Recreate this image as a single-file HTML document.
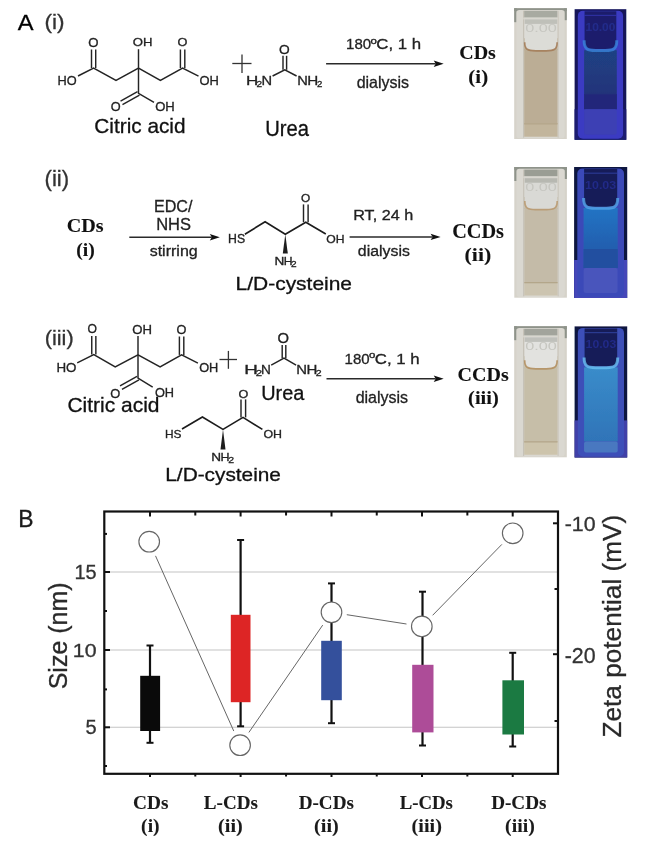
<!DOCTYPE html>
<html><head><meta charset="utf-8"><style>
html,body{margin:0;padding:0;background:#fff;}
body{width:650px;height:845px;overflow:hidden;}
svg{display:block;filter:blur(0.4px);}
</style></head><body>
<svg width="650" height="845" viewBox="0 0 650 845">
<rect width="650" height="845" fill="#fff"/>
<line x1="105.00" y1="572.00" x2="557.00" y2="572.00" stroke="#c4c4c4" stroke-width="1.1" />
<line x1="105.00" y1="650.00" x2="557.00" y2="650.00" stroke="#c4c4c4" stroke-width="1.1" />
<line x1="105.00" y1="727.30" x2="557.00" y2="727.30" stroke="#c4c4c4" stroke-width="1.1" />
<rect x="104.3" y="511.5" width="453.7" height="262.3" fill="none" stroke="#111" stroke-width="2.2"/>
<line x1="104.30" y1="572.00" x2="110.00" y2="572.00" stroke="#111" stroke-width="2" />
<line x1="104.30" y1="650.00" x2="110.00" y2="650.00" stroke="#111" stroke-width="2" />
<line x1="104.30" y1="727.30" x2="110.00" y2="727.30" stroke="#111" stroke-width="2" />
<line x1="104.30" y1="533.90" x2="107.00" y2="533.90" stroke="#111" stroke-width="2" />
<line x1="104.30" y1="611.00" x2="107.00" y2="611.00" stroke="#111" stroke-width="2" />
<line x1="104.30" y1="689.40" x2="107.00" y2="689.40" stroke="#111" stroke-width="2" />
<line x1="104.30" y1="766.00" x2="107.00" y2="766.00" stroke="#111" stroke-width="2" />
<line x1="553.00" y1="523.30" x2="558.00" y2="523.30" stroke="#111" stroke-width="2" />
<line x1="553.00" y1="654.20" x2="558.00" y2="654.20" stroke="#111" stroke-width="2" />
<line x1="554.50" y1="589.00" x2="558.00" y2="589.00" stroke="#111" stroke-width="2" />
<line x1="554.50" y1="721.00" x2="558.00" y2="721.00" stroke="#111" stroke-width="2" />
<line x1="150.00" y1="511.50" x2="150.00" y2="516.50" stroke="#111" stroke-width="2" />
<line x1="150.00" y1="773.80" x2="150.00" y2="777.00" stroke="#111" stroke-width="2" />
<line x1="240.60" y1="511.50" x2="240.60" y2="516.50" stroke="#111" stroke-width="2" />
<line x1="240.60" y1="773.80" x2="240.60" y2="777.00" stroke="#111" stroke-width="2" />
<line x1="331.50" y1="511.50" x2="331.50" y2="516.50" stroke="#111" stroke-width="2" />
<line x1="331.50" y1="773.80" x2="331.50" y2="777.00" stroke="#111" stroke-width="2" />
<line x1="422.00" y1="511.50" x2="422.00" y2="516.50" stroke="#111" stroke-width="2" />
<line x1="422.00" y1="773.80" x2="422.00" y2="777.00" stroke="#111" stroke-width="2" />
<line x1="512.70" y1="511.50" x2="512.70" y2="516.50" stroke="#111" stroke-width="2" />
<line x1="512.70" y1="773.80" x2="512.70" y2="777.00" stroke="#111" stroke-width="2" />
<line x1="195.30" y1="511.50" x2="195.30" y2="515.50" stroke="#111" stroke-width="2" />
<line x1="195.30" y1="773.80" x2="195.30" y2="776.50" stroke="#111" stroke-width="2" />
<line x1="286.05" y1="511.50" x2="286.05" y2="515.50" stroke="#111" stroke-width="2" />
<line x1="286.05" y1="773.80" x2="286.05" y2="776.50" stroke="#111" stroke-width="2" />
<line x1="376.75" y1="511.50" x2="376.75" y2="515.50" stroke="#111" stroke-width="2" />
<line x1="376.75" y1="773.80" x2="376.75" y2="776.50" stroke="#111" stroke-width="2" />
<line x1="467.35" y1="511.50" x2="467.35" y2="515.50" stroke="#111" stroke-width="2" />
<line x1="467.35" y1="773.80" x2="467.35" y2="776.50" stroke="#111" stroke-width="2" />
<text x="74.38" y="578.81" font-size="19.92" font-family='"Liberation Sans", sans-serif' font-weight="normal" fill="#333" stroke="#333" stroke-width="0.3" textLength="22.15" lengthAdjust="spacingAndGlyphs" >15</text>
<text x="72.77" y="656.72" font-size="18.93" font-family='"Liberation Sans", sans-serif' font-weight="normal" fill="#333" stroke="#333" stroke-width="0.3" textLength="23.76" lengthAdjust="spacingAndGlyphs" >10</text>
<text x="85.40" y="734.21" font-size="19.92" font-family='"Liberation Sans", sans-serif' font-weight="normal" fill="#333" stroke="#333" stroke-width="0.3" textLength="11.14" lengthAdjust="spacingAndGlyphs" >5</text>
<text x="564.75" y="530.61" font-size="19.49" font-family='"Liberation Sans", sans-serif' font-weight="normal" fill="#333" stroke="#333" stroke-width="0.3" textLength="30.88" lengthAdjust="spacingAndGlyphs" >-10</text>
<text x="564.75" y="662.59" font-size="21.75" font-family='"Liberation Sans", sans-serif' font-weight="normal" fill="#333" stroke="#333" stroke-width="0.3" textLength="30.88" lengthAdjust="spacingAndGlyphs" >-20</text>
<text x="0.00" y="0.00" font-size="25.00" font-family='"Liberation Sans", sans-serif' font-weight="normal" fill="#2a2a2a" stroke="#2a2a2a" stroke-width="0.3" textLength="106.95" lengthAdjust="spacingAndGlyphs" transform="translate(66.9,689.3) rotate(-90)">Size (nm)</text>
<text x="0.00" y="0.00" font-size="26.20" font-family='"Liberation Sans", sans-serif' font-weight="normal" fill="#2a2a2a" stroke="#2a2a2a" stroke-width="0.3" textLength="222.78" lengthAdjust="spacingAndGlyphs" transform="translate(620.5,737.5) rotate(-90)">Zeta potential (mV)</text>
<line x1="150.00" y1="645.50" x2="150.00" y2="742.80" stroke="#111" stroke-width="2.2" />
<line x1="146.50" y1="645.50" x2="153.50" y2="645.50" stroke="#111" stroke-width="2" />
<line x1="146.50" y1="742.80" x2="153.50" y2="742.80" stroke="#111" stroke-width="2" />
<rect x="140.20" y="675.80" width="19.90" height="55.20" fill="#0a0a0a" />
<line x1="240.60" y1="540.00" x2="240.60" y2="726.30" stroke="#111" stroke-width="2.2" />
<line x1="237.10" y1="540.00" x2="244.10" y2="540.00" stroke="#111" stroke-width="2" />
<line x1="237.10" y1="726.30" x2="244.10" y2="726.30" stroke="#111" stroke-width="2" />
<rect x="230.80" y="614.80" width="19.70" height="87.40" fill="#dd2525" />
<line x1="331.50" y1="583.40" x2="331.50" y2="723.20" stroke="#111" stroke-width="2.2" />
<line x1="328.00" y1="583.40" x2="335.00" y2="583.40" stroke="#111" stroke-width="2" />
<line x1="328.00" y1="723.20" x2="335.00" y2="723.20" stroke="#111" stroke-width="2" />
<rect x="321.20" y="640.80" width="20.60" height="59.40" fill="#34509c" />
<line x1="422.50" y1="591.70" x2="422.50" y2="745.50" stroke="#111" stroke-width="2.2" />
<line x1="419.00" y1="591.70" x2="426.00" y2="591.70" stroke="#111" stroke-width="2" />
<line x1="419.00" y1="745.50" x2="426.00" y2="745.50" stroke="#111" stroke-width="2" />
<rect x="412.20" y="664.80" width="21.30" height="67.60" fill="#ad4c98" />
<line x1="512.70" y1="652.80" x2="512.70" y2="746.50" stroke="#111" stroke-width="2.2" />
<line x1="509.20" y1="652.80" x2="516.20" y2="652.80" stroke="#111" stroke-width="2" />
<line x1="509.20" y1="746.50" x2="516.20" y2="746.50" stroke="#111" stroke-width="2" />
<rect x="502.40" y="680.30" width="21.60" height="54.20" fill="#1b7a42" />
<line x1="155.52" y1="555.85" x2="233.78" y2="731.05" stroke="#666" stroke-width="1.0" />
<line x1="248.88" y1="732.43" x2="322.72" y2="625.07" stroke="#666" stroke-width="1.0" />
<line x1="346.81" y1="614.69" x2="406.49" y2="624.01" stroke="#666" stroke-width="1.0" />
<line x1="432.63" y1="615.31" x2="501.87" y2="544.39" stroke="#666" stroke-width="1.0" />
<circle cx="149.2" cy="541.7" r="10.3" fill="#fff" stroke="#666" stroke-width="1.15"/>
<circle cx="240.1" cy="745.2" r="10.3" fill="#fff" stroke="#666" stroke-width="1.15"/>
<circle cx="331.5" cy="612.3" r="10.3" fill="#fff" stroke="#666" stroke-width="1.15"/>
<circle cx="421.8" cy="626.4" r="10.3" fill="#fff" stroke="#666" stroke-width="1.15"/>
<circle cx="512.7" cy="533.3" r="10.3" fill="#fff" stroke="#666" stroke-width="1.15"/>
<text x="133.06" y="808.61" font-size="19.80" font-family='"Liberation Serif", serif' font-weight="bold" fill="#1a1a1a" stroke="#1a1a1a" stroke-width="0.1" textLength="35.41" lengthAdjust="spacingAndGlyphs" >CDs</text>
<text x="141.14" y="831.67" font-size="19.41" font-family='"Liberation Serif", serif' font-weight="bold" fill="#1a1a1a" stroke="#1a1a1a" stroke-width="0.1" textLength="18.53" lengthAdjust="spacingAndGlyphs" >(i)</text>
<text x="203.87" y="808.61" font-size="19.80" font-family='"Liberation Serif", serif' font-weight="bold" fill="#1a1a1a" stroke="#1a1a1a" stroke-width="0.1" textLength="53.99" lengthAdjust="spacingAndGlyphs" >L-CDs</text>
<text x="218.11" y="831.67" font-size="19.41" font-family='"Liberation Serif", serif' font-weight="bold" fill="#1a1a1a" stroke="#1a1a1a" stroke-width="0.1" textLength="24.68" lengthAdjust="spacingAndGlyphs" >(ii)</text>
<text x="298.76" y="808.61" font-size="19.80" font-family='"Liberation Serif", serif' font-weight="bold" fill="#1a1a1a" stroke="#1a1a1a" stroke-width="0.1" textLength="55.10" lengthAdjust="spacingAndGlyphs" >D-CDs</text>
<text x="314.11" y="831.67" font-size="19.41" font-family='"Liberation Serif", serif' font-weight="bold" fill="#1a1a1a" stroke="#1a1a1a" stroke-width="0.1" textLength="24.68" lengthAdjust="spacingAndGlyphs" >(ii)</text>
<text x="399.68" y="808.61" font-size="19.80" font-family='"Liberation Serif", serif' font-weight="bold" fill="#1a1a1a" stroke="#1a1a1a" stroke-width="0.1" textLength="53.28" lengthAdjust="spacingAndGlyphs" >L-CDs</text>
<text x="411.61" y="831.67" font-size="19.41" font-family='"Liberation Serif", serif' font-weight="bold" fill="#1a1a1a" stroke="#1a1a1a" stroke-width="0.1" textLength="30.27" lengthAdjust="spacingAndGlyphs" >(iii)</text>
<text x="491.16" y="808.61" font-size="19.80" font-family='"Liberation Serif", serif' font-weight="bold" fill="#1a1a1a" stroke="#1a1a1a" stroke-width="0.1" textLength="55.30" lengthAdjust="spacingAndGlyphs" >D-CDs</text>
<text x="505.13" y="831.67" font-size="19.41" font-family='"Liberation Serif", serif' font-weight="bold" fill="#1a1a1a" stroke="#1a1a1a" stroke-width="0.1" textLength="29.74" lengthAdjust="spacingAndGlyphs" >(iii)</text>
<text x="18.22" y="526.50" font-size="23.11" font-family='"Liberation Sans", sans-serif' font-weight="normal" fill="#1a1a1a" stroke="#1a1a1a" stroke-width="0.3" textLength="15.29" lengthAdjust="spacingAndGlyphs" >B</text>
<path d="M78.00,76.00 L93.60,68.00 L116.00,80.50 L138.50,68.00 L160.40,80.50 L182.60,68.00 L198.50,76.20" fill="none" stroke="#242424" stroke-width="1.45" stroke-linejoin="miter" stroke-linecap="butt"/>
<line x1="138.50" y1="68.00" x2="138.50" y2="49.20" stroke="#242424" stroke-width="1.45" />
<path d="M138.50,68.00 L138.50,93.30 L154.00,102.30" fill="none" stroke="#242424" stroke-width="1.45" stroke-linejoin="miter" stroke-linecap="butt"/>
<line x1="91.50" y1="49.50" x2="91.50" y2="68.00" stroke="#242424" stroke-width="1.45" />
<line x1="95.70" y1="49.50" x2="95.70" y2="68.00" stroke="#242424" stroke-width="1.45" />
<line x1="180.40" y1="49.50" x2="180.40" y2="68.00" stroke="#242424" stroke-width="1.45" />
<line x1="184.80" y1="49.50" x2="184.80" y2="68.00" stroke="#242424" stroke-width="1.45" />
<line x1="139.48" y1="95.05" x2="122.48" y2="104.55" stroke="#242424" stroke-width="1.45" />
<line x1="137.52" y1="91.55" x2="120.52" y2="101.05" stroke="#242424" stroke-width="1.45" />
<text x="88.38" y="47.38" font-size="12.01" font-family='"Liberation Sans", sans-serif' font-weight="normal" fill="#222" stroke="#222" stroke-width="0.3" textLength="10.26" lengthAdjust="spacingAndGlyphs" >O</text>
<text x="57.45" y="84.88" font-size="12.71" font-family='"Liberation Sans", sans-serif' font-weight="normal" fill="#222" stroke="#222" stroke-width="0.3" textLength="19.16" lengthAdjust="spacingAndGlyphs" >HO</text>
<text x="132.88" y="46.49" font-size="11.44" font-family='"Liberation Sans", sans-serif' font-weight="normal" fill="#222" stroke="#222" stroke-width="0.3" textLength="19.69" lengthAdjust="spacingAndGlyphs" >OH</text>
<text x="177.60" y="46.49" font-size="11.44" font-family='"Liberation Sans", sans-serif' font-weight="normal" fill="#222" stroke="#222" stroke-width="0.3" textLength="9.91" lengthAdjust="spacingAndGlyphs" >O</text>
<text x="199.39" y="85.27" font-size="12.99" font-family='"Liberation Sans", sans-serif' font-weight="normal" fill="#222" stroke="#222" stroke-width="0.3" textLength="19.36" lengthAdjust="spacingAndGlyphs" >OH</text>
<text x="110.70" y="110.88" font-size="12.29" font-family='"Liberation Sans", sans-serif' font-weight="normal" fill="#222" stroke="#222" stroke-width="0.3" textLength="9.91" lengthAdjust="spacingAndGlyphs" >O</text>
<text x="155.18" y="110.88" font-size="12.29" font-family='"Liberation Sans", sans-serif' font-weight="normal" fill="#222" stroke="#222" stroke-width="0.3" textLength="19.58" lengthAdjust="spacingAndGlyphs" >OH</text>
<path d="M77.20,362.90 L93.80,354.60 L115.20,367.00 L138.00,354.80 L160.10,366.90 L181.60,354.90 L197.90,363.20" fill="none" stroke="#242424" stroke-width="1.45" stroke-linejoin="miter" stroke-linecap="butt"/>
<line x1="138.00" y1="354.80" x2="138.00" y2="335.90" stroke="#242424" stroke-width="1.45" />
<path d="M138.00,354.80 L138.00,378.10 L152.70,387.20" fill="none" stroke="#242424" stroke-width="1.45" stroke-linejoin="miter" stroke-linecap="butt"/>
<line x1="91.75" y1="335.90" x2="91.75" y2="354.60" stroke="#242424" stroke-width="1.45" />
<line x1="95.85" y1="335.90" x2="95.85" y2="354.60" stroke="#242424" stroke-width="1.45" />
<line x1="179.40" y1="336.50" x2="179.40" y2="354.90" stroke="#242424" stroke-width="1.45" />
<line x1="183.80" y1="336.50" x2="183.80" y2="354.90" stroke="#242424" stroke-width="1.45" />
<line x1="138.98" y1="379.85" x2="121.98" y2="389.35" stroke="#242424" stroke-width="1.45" />
<line x1="137.02" y1="376.35" x2="120.02" y2="385.85" stroke="#242424" stroke-width="1.45" />
<text x="87.62" y="333.08" font-size="11.86" font-family='"Liberation Sans", sans-serif' font-weight="normal" fill="#222" stroke="#222" stroke-width="0.3" textLength="9.46" lengthAdjust="spacingAndGlyphs" >O</text>
<text x="56.40" y="371.78" font-size="12.71" font-family='"Liberation Sans", sans-serif' font-weight="normal" fill="#222" stroke="#222" stroke-width="0.3" textLength="20.03" lengthAdjust="spacingAndGlyphs" >HO</text>
<text x="132.18" y="333.58" font-size="12.29" font-family='"Liberation Sans", sans-serif' font-weight="normal" fill="#222" stroke="#222" stroke-width="0.3" textLength="19.69" lengthAdjust="spacingAndGlyphs" >OH</text>
<text x="176.60" y="333.58" font-size="12.29" font-family='"Liberation Sans", sans-serif' font-weight="normal" fill="#222" stroke="#222" stroke-width="0.3" textLength="9.91" lengthAdjust="spacingAndGlyphs" >O</text>
<text x="199.20" y="371.78" font-size="12.29" font-family='"Liberation Sans", sans-serif' font-weight="normal" fill="#222" stroke="#222" stroke-width="0.3" textLength="19.15" lengthAdjust="spacingAndGlyphs" >OH</text>
<text x="110.19" y="397.58" font-size="12.71" font-family='"Liberation Sans", sans-serif' font-weight="normal" fill="#222" stroke="#222" stroke-width="0.3" textLength="10.03" lengthAdjust="spacingAndGlyphs" >O</text>
<text x="154.90" y="397.27" font-size="12.99" font-family='"Liberation Sans", sans-serif' font-weight="normal" fill="#222" stroke="#222" stroke-width="0.3" textLength="19.15" lengthAdjust="spacingAndGlyphs" >OH</text>
<text x="94.35" y="133.00" font-size="20.29" font-family='"Liberation Sans", sans-serif' font-weight="normal" fill="#111" stroke="#111" stroke-width="0.3" textLength="91.19" lengthAdjust="spacingAndGlyphs" >Citric acid</text>
<text x="67.43" y="411.60" font-size="20.43" font-family='"Liberation Sans", sans-serif' font-weight="normal" fill="#111" stroke="#111" stroke-width="0.3" textLength="92.12" lengthAdjust="spacingAndGlyphs" >Citric acid</text>
<line x1="232.30" y1="63.50" x2="251.50" y2="63.50" stroke="#333" stroke-width="1.3" />
<line x1="242.00" y1="54.60" x2="242.00" y2="73.10" stroke="#333" stroke-width="1.3" />
<line x1="219.50" y1="359.50" x2="237.00" y2="359.50" stroke="#333" stroke-width="1.3" />
<line x1="228.40" y1="350.90" x2="228.40" y2="368.80" stroke="#333" stroke-width="1.3" />
<path d="M272.60,76.00 L284.80,69.80 L296.60,76.00" fill="none" stroke="#242424" stroke-width="1.45" stroke-linejoin="miter" stroke-linecap="butt"/>
<line x1="283.00" y1="55.80" x2="283.00" y2="69.80" stroke="#242424" stroke-width="1.45" />
<line x1="286.60" y1="55.80" x2="286.60" y2="69.80" stroke="#242424" stroke-width="1.45" />
<text x="278.95" y="53.77" font-size="13.42" font-family='"Liberation Sans", sans-serif' font-weight="normal" fill="#222" stroke="#222" stroke-width="0.3" textLength="10.71" lengthAdjust="spacingAndGlyphs" >O</text>
<text x="246.00" y="84.60" font-size="13.08" font-family='"Liberation Sans", sans-serif' font-weight="normal" fill="#222" stroke="#222" stroke-width="0.3" textLength="12.28" lengthAdjust="spacingAndGlyphs" >H</text>
<text x="256.59" y="86.50" font-size="9.45" font-family='"Liberation Sans", sans-serif' font-weight="normal" fill="#222" stroke="#222" stroke-width="0.3" textLength="5.62" lengthAdjust="spacingAndGlyphs" >2</text>
<text x="261.40" y="84.60" font-size="13.08" font-family='"Liberation Sans", sans-serif' font-weight="normal" fill="#222" stroke="#222" stroke-width="0.3" textLength="10.60" lengthAdjust="spacingAndGlyphs" >N</text>
<text x="297.30" y="84.60" font-size="13.08" font-family='"Liberation Sans", sans-serif' font-weight="normal" fill="#222" stroke="#222" stroke-width="0.3" textLength="10.60" lengthAdjust="spacingAndGlyphs" >N</text>
<text x="307.35" y="84.60" font-size="13.08" font-family='"Liberation Sans", sans-serif' font-weight="normal" fill="#222" stroke="#222" stroke-width="0.3" textLength="10.99" lengthAdjust="spacingAndGlyphs" >H</text>
<text x="316.91" y="86.50" font-size="9.45" font-family='"Liberation Sans", sans-serif' font-weight="normal" fill="#222" stroke="#222" stroke-width="0.3" textLength="5.37" lengthAdjust="spacingAndGlyphs" >2</text>
<path d="M271.20,365.20 L284.00,358.20 L296.10,365.20" fill="none" stroke="#242424" stroke-width="1.45" stroke-linejoin="miter" stroke-linecap="butt"/>
<line x1="282.20" y1="345.10" x2="282.20" y2="358.20" stroke="#242424" stroke-width="1.45" />
<line x1="285.80" y1="345.10" x2="285.80" y2="358.20" stroke="#242424" stroke-width="1.45" />
<text x="277.40" y="342.56" font-size="14.27" font-family='"Liberation Sans", sans-serif' font-weight="normal" fill="#222" stroke="#222" stroke-width="0.3" textLength="11.51" lengthAdjust="spacingAndGlyphs" >O</text>
<text x="244.26" y="373.50" font-size="13.08" font-family='"Liberation Sans", sans-serif' font-weight="normal" fill="#222" stroke="#222" stroke-width="0.3" textLength="13.57" lengthAdjust="spacingAndGlyphs" >H</text>
<text x="255.73" y="375.50" font-size="9.31" font-family='"Liberation Sans", sans-serif' font-weight="normal" fill="#222" stroke="#222" stroke-width="0.3" textLength="6.35" lengthAdjust="spacingAndGlyphs" >2</text>
<text x="261.08" y="373.50" font-size="13.08" font-family='"Liberation Sans", sans-serif' font-weight="normal" fill="#222" stroke="#222" stroke-width="0.3" textLength="9.83" lengthAdjust="spacingAndGlyphs" >N</text>
<text x="296.28" y="373.50" font-size="13.08" font-family='"Liberation Sans", sans-serif' font-weight="normal" fill="#222" stroke="#222" stroke-width="0.3" textLength="10.73" lengthAdjust="spacingAndGlyphs" >N</text>
<text x="306.57" y="373.50" font-size="13.08" font-family='"Liberation Sans", sans-serif' font-weight="normal" fill="#222" stroke="#222" stroke-width="0.3" textLength="10.86" lengthAdjust="spacingAndGlyphs" >H</text>
<text x="315.67" y="375.50" font-size="9.31" font-family='"Liberation Sans", sans-serif' font-weight="normal" fill="#222" stroke="#222" stroke-width="0.3" textLength="5.86" lengthAdjust="spacingAndGlyphs" >2</text>
<text x="265.24" y="135.59" font-size="21.50" font-family='"Liberation Sans", sans-serif' font-weight="normal" fill="#111" stroke="#111" stroke-width="0.3" textLength="43.76" lengthAdjust="spacingAndGlyphs" >Urea</text>
<text x="261.26" y="400.30" font-size="20.92" font-family='"Liberation Sans", sans-serif' font-weight="normal" fill="#111" stroke="#111" stroke-width="0.3" textLength="43.14" lengthAdjust="spacingAndGlyphs" >Urea</text>
<path d="M244.90,234.20 L265.10,221.80 L285.30,234.20 L305.80,222.20 L325.80,234.00" fill="none" stroke="#1c1c1c" stroke-width="1.65" stroke-linejoin="miter" stroke-linecap="butt"/>
<line x1="303.50" y1="204.40" x2="303.50" y2="222.20" stroke="#242424" stroke-width="1.45" />
<line x1="308.10" y1="204.40" x2="308.10" y2="222.20" stroke="#242424" stroke-width="1.45" />
<path d="M285.30,234.20 L282.80,253.50 L287.80,253.50 Z" fill="#1e1e1e" stroke="none" stroke-width="0" />
<text x="228.09" y="242.68" font-size="11.86" font-family='"Liberation Sans", sans-serif' font-weight="normal" fill="#222" stroke="#222" stroke-width="0.3" textLength="17.07" lengthAdjust="spacingAndGlyphs" >HS</text>
<text x="300.94" y="202.09" font-size="11.30" font-family='"Liberation Sans", sans-serif' font-weight="normal" fill="#222" stroke="#222" stroke-width="0.3" textLength="9.23" lengthAdjust="spacingAndGlyphs" >O</text>
<text x="326.22" y="243.09" font-size="11.16" font-family='"Liberation Sans", sans-serif' font-weight="normal" fill="#222" stroke="#222" stroke-width="0.3" textLength="18.27" lengthAdjust="spacingAndGlyphs" >OH</text>
<text x="274.48" y="264.80" font-size="10.90" font-family='"Liberation Sans", sans-serif' font-weight="normal" fill="#222" stroke="#222" stroke-width="0.3" textLength="9.83" lengthAdjust="spacingAndGlyphs" >N</text>
<text x="283.80" y="264.80" font-size="10.90" font-family='"Liberation Sans", sans-serif' font-weight="normal" fill="#222" stroke="#222" stroke-width="0.3" textLength="8.79" lengthAdjust="spacingAndGlyphs" >H</text>
<text x="291.09" y="266.80" font-size="9.17" font-family='"Liberation Sans", sans-serif' font-weight="normal" fill="#222" stroke="#222" stroke-width="0.3" textLength="5.62" lengthAdjust="spacingAndGlyphs" >2</text>
<path d="M182.00,429.00 L202.40,417.00 L223.00,429.40 L243.00,417.40 L262.40,429.40" fill="none" stroke="#1c1c1c" stroke-width="1.65" stroke-linejoin="miter" stroke-linecap="butt"/>
<line x1="241.00" y1="399.40" x2="241.00" y2="417.40" stroke="#242424" stroke-width="1.45" />
<line x1="245.60" y1="399.40" x2="245.60" y2="417.40" stroke="#242424" stroke-width="1.45" />
<path d="M223.00,429.40 L220.50,449.40 L225.50,449.40 Z" fill="#1e1e1e" stroke="none" stroke-width="0" />
<text x="165.02" y="438.49" font-size="11.30" font-family='"Liberation Sans", sans-serif' font-weight="normal" fill="#222" stroke="#222" stroke-width="0.3" textLength="16.52" lengthAdjust="spacingAndGlyphs" >HS</text>
<text x="238.40" y="397.89" font-size="11.30" font-family='"Liberation Sans", sans-serif' font-weight="normal" fill="#222" stroke="#222" stroke-width="0.3" textLength="9.80" lengthAdjust="spacingAndGlyphs" >O</text>
<text x="263.41" y="438.49" font-size="11.58" font-family='"Liberation Sans", sans-serif' font-weight="normal" fill="#222" stroke="#222" stroke-width="0.3" textLength="18.60" lengthAdjust="spacingAndGlyphs" >OH</text>
<text x="211.28" y="461.00" font-size="11.34" font-family='"Liberation Sans", sans-serif' font-weight="normal" fill="#222" stroke="#222" stroke-width="0.3" textLength="9.83" lengthAdjust="spacingAndGlyphs" >N</text>
<text x="220.57" y="461.00" font-size="11.34" font-family='"Liberation Sans", sans-serif' font-weight="normal" fill="#222" stroke="#222" stroke-width="0.3" textLength="9.05" lengthAdjust="spacingAndGlyphs" >H</text>
<text x="228.27" y="462.60" font-size="8.88" font-family='"Liberation Sans", sans-serif' font-weight="normal" fill="#222" stroke="#222" stroke-width="0.3" textLength="5.86" lengthAdjust="spacingAndGlyphs" >2</text>
<text x="235.58" y="289.90" font-size="17.66" font-family='"Liberation Sans", sans-serif' font-weight="normal" fill="#111" stroke="#111" stroke-width="0.3" textLength="116.45" lengthAdjust="spacingAndGlyphs" >L/D-cysteine</text>
<text x="165.29" y="480.60" font-size="18.77" font-family='"Liberation Sans", sans-serif' font-weight="normal" fill="#111" stroke="#111" stroke-width="0.3" textLength="115.63" lengthAdjust="spacingAndGlyphs" >L/D-cysteine</text>
<line x1="326.10" y1="63.70" x2="435.70" y2="63.70" stroke="#2a2a2a" stroke-width="1.5" />
<path d="M443.70,63.70 L433.70,60.50 L435.70,63.70 L433.70,66.90 Z" fill="#111" stroke="none" stroke-width="0" />
<line x1="129.30" y1="237.20" x2="211.80" y2="237.20" stroke="#2a2a2a" stroke-width="1.5" />
<path d="M219.80,237.20 L209.80,234.00 L211.80,237.20 L209.80,240.40 Z" fill="#111" stroke="none" stroke-width="0" />
<line x1="349.60" y1="236.90" x2="432.60" y2="236.90" stroke="#2a2a2a" stroke-width="1.5" />
<path d="M440.60,236.90 L430.60,233.70 L432.60,236.90 L430.60,240.10 Z" fill="#111" stroke="none" stroke-width="0" />
<line x1="326.50" y1="378.70" x2="435.70" y2="378.70" stroke="#2a2a2a" stroke-width="1.5" />
<path d="M443.70,378.70 L433.70,375.50 L435.70,378.70 L433.70,381.90 Z" fill="#111" stroke="none" stroke-width="0" />
<text x="346.06" y="49.16" font-size="14.27" font-family='"Liberation Sans", sans-serif' font-weight="normal" fill="#222" stroke="#222" stroke-width="0.3" textLength="25.03" lengthAdjust="spacingAndGlyphs" >180</text>
<text x="370.42" y="43.72" font-size="8.40" font-family='"Liberation Sans", sans-serif' font-weight="normal" fill="#222" stroke="#222" stroke-width="0.3" textLength="6.36" lengthAdjust="spacingAndGlyphs" >o</text>
<text x="376.25" y="49.30" font-size="14.35" font-family='"Liberation Sans", sans-serif' font-weight="normal" fill="#222" stroke="#222" stroke-width="0.3" textLength="44.85" lengthAdjust="spacingAndGlyphs" >C, 1 h</text>
<text x="344.56" y="363.66" font-size="14.27" font-family='"Liberation Sans", sans-serif' font-weight="normal" fill="#222" stroke="#222" stroke-width="0.3" textLength="25.03" lengthAdjust="spacingAndGlyphs" >180</text>
<text x="368.92" y="358.22" font-size="8.40" font-family='"Liberation Sans", sans-serif' font-weight="normal" fill="#222" stroke="#222" stroke-width="0.3" textLength="6.36" lengthAdjust="spacingAndGlyphs" >o</text>
<text x="374.75" y="363.80" font-size="14.35" font-family='"Liberation Sans", sans-serif' font-weight="normal" fill="#222" stroke="#222" stroke-width="0.3" textLength="44.85" lengthAdjust="spacingAndGlyphs" >C, 1 h</text>
<text x="356.63" y="87.50" font-size="16.28" font-family='"Liberation Sans", sans-serif' font-weight="normal" fill="#222" stroke="#222" stroke-width="0.3" textLength="52.45" lengthAdjust="spacingAndGlyphs" >dialysis</text>
<text x="357.83" y="256.20" font-size="14.90" font-family='"Liberation Sans", sans-serif' font-weight="normal" fill="#222" stroke="#222" stroke-width="0.3" textLength="52.04" lengthAdjust="spacingAndGlyphs" >dialysis</text>
<text x="355.63" y="403.20" font-size="16.15" font-family='"Liberation Sans", sans-serif' font-weight="normal" fill="#222" stroke="#222" stroke-width="0.3" textLength="52.45" lengthAdjust="spacingAndGlyphs" >dialysis</text>
<text x="353.22" y="219.70" font-size="14.49" font-family='"Liberation Sans", sans-serif' font-weight="normal" fill="#222" stroke="#222" stroke-width="0.3" textLength="60.00" lengthAdjust="spacingAndGlyphs" >RT, 24 h</text>
<text x="153.98" y="211.64" font-size="16.61" font-family='"Liberation Sans", sans-serif' font-weight="normal" fill="#222" stroke="#222" stroke-width="0.3" textLength="38.52" lengthAdjust="spacingAndGlyphs" >EDC/</text>
<text x="156.15" y="230.34" font-size="16.53" font-family='"Liberation Sans", sans-serif' font-weight="normal" fill="#222" stroke="#222" stroke-width="0.3" textLength="34.81" lengthAdjust="spacingAndGlyphs" >NHS</text>
<text x="149.65" y="255.90" font-size="15.18" font-family='"Liberation Sans", sans-serif' font-weight="normal" fill="#222" stroke="#222" stroke-width="0.3" textLength="48.08" lengthAdjust="spacingAndGlyphs" >stirring</text>
<text x="17.75" y="29.60" font-size="22.38" font-family='"Liberation Sans", sans-serif' font-weight="normal" fill="#000" stroke="#000" stroke-width="0.3" textLength="15.79" lengthAdjust="spacingAndGlyphs" >A</text>
<text x="44.40" y="28.91" font-size="20.72" font-family='"Liberation Sans", sans-serif' font-weight="normal" fill="#333" stroke="#333" stroke-width="0.3" textLength="20.11" lengthAdjust="spacingAndGlyphs" >(i)</text>
<text x="44.52" y="185.88" font-size="21.36" font-family='"Liberation Sans", sans-serif' font-weight="normal" fill="#333" stroke="#333" stroke-width="0.3" textLength="24.65" lengthAdjust="spacingAndGlyphs" >(ii)</text>
<text x="44.65" y="345.49" font-size="20.82" font-family='"Liberation Sans", sans-serif' font-weight="normal" fill="#333" stroke="#333" stroke-width="0.3" textLength="29.00" lengthAdjust="spacingAndGlyphs" >(iii)</text>
<text x="459.33" y="59.31" font-size="19.20" font-family='"Liberation Serif", serif' font-weight="bold" fill="#111" stroke="#111" stroke-width="0.1" textLength="36.56" lengthAdjust="spacingAndGlyphs" >CDs</text>
<text x="468.38" y="82.66" font-size="18.53" font-family='"Liberation Serif", serif' font-weight="bold" fill="#111" stroke="#111" stroke-width="0.1" textLength="19.74" lengthAdjust="spacingAndGlyphs" >(i)</text>
<text x="66.82" y="232.21" font-size="19.05" font-family='"Liberation Serif", serif' font-weight="bold" fill="#111" stroke="#111" stroke-width="0.1" textLength="36.87" lengthAdjust="spacingAndGlyphs" >CDs</text>
<text x="76.34" y="256.09" font-size="18.86" font-family='"Liberation Serif", serif' font-weight="bold" fill="#111" stroke="#111" stroke-width="0.1" textLength="18.53" lengthAdjust="spacingAndGlyphs" >(i)</text>
<text x="452.21" y="238.20" font-size="20.24" font-family='"Liberation Serif", serif' font-weight="bold" fill="#111" stroke="#111" stroke-width="0.1" textLength="51.78" lengthAdjust="spacingAndGlyphs" >CCDs</text>
<text x="464.64" y="261.43" font-size="18.20" font-family='"Liberation Serif", serif' font-weight="bold" fill="#111" stroke="#111" stroke-width="0.1" textLength="26.61" lengthAdjust="spacingAndGlyphs" >(ii)</text>
<text x="457.62" y="380.71" font-size="19.35" font-family='"Liberation Serif", serif' font-weight="bold" fill="#111" stroke="#111" stroke-width="0.1" textLength="51.06" lengthAdjust="spacingAndGlyphs" >CCDs</text>
<text x="468.10" y="404.24" font-size="19.08" font-family='"Liberation Serif", serif' font-weight="bold" fill="#111" stroke="#111" stroke-width="0.1" textLength="30.59" lengthAdjust="spacingAndGlyphs" >(iii)</text>
<defs><filter id="pb" x="-5%" y="-5%" width="110%" height="110%"><feGaussianBlur stdDeviation="0.65"/></filter></defs>
<g filter="url(#pb)"><rect x="514.20" y="8.20" width="52.60" height="130.80" rx="0" fill="#d6d3ca" /><rect x="514.20" y="8.20" width="52.60" height="2.80" rx="0" fill="#8e938a" /><rect x="514.20" y="8.20" width="2.50" height="14.00" rx="0" fill="#8e938a" /><rect x="564.30" y="8.20" width="2.50" height="12.00" rx="0" fill="#8e938a" /><rect x="516.40" y="10.00" width="48.20" height="128.20" rx="3" fill="#dad8d1" /><rect x="523.00" y="10.80" width="1.20" height="126.80" rx="0" fill="#c6c2b8" /><rect x="557.50" y="10.80" width="1.20" height="126.80" rx="0" fill="#cac6bd" /><rect x="524.20" y="10.80" width="33.10" height="6.80" rx="0" fill="#a8aaa1" /><rect x="523.20" y="17.60" width="34.60" height="1.80" rx="0" fill="#d8d6cf" /><rect x="524.20" y="49.20" width="33.30" height="74.80" rx="0" fill="#bbad95" /><rect x="524.20" y="123.20" width="33.30" height="13.50" rx="0" fill="#c2b59c" /><rect x="524.20" y="123.20" width="33.30" height="1.30" rx="0" fill="#b3a68a" /><rect x="524.20" y="38.20" width="33.30" height="12.00" rx="0" fill="#bbad95" /><path d="M524.70,19.40 H557.10 V42.20 C557.10,49.20 554.10,50.20 546.10,50.20 H535.70 C527.70,50.20 524.70,49.20 524.70,42.20 Z" fill="#dcdcd7"/><rect x="524.70" y="19.40" width="32.40" height="4.50" rx="0" fill="#a8aaa1" opacity="0.55"/><path d="M524.70,42.20 C524.70,49.70 527.70,50.80 535.70,50.80 H546.10 C554.10,50.80 557.10,49.70 557.10,42.20" stroke="#a07550" stroke-width="1.7" fill="none" opacity="0.8"/><text x="525.20" y="32.20" font-size="10" font-family='"Liberation Sans", sans-serif' fill="#c6c6c0" textLength="31.60" lengthAdjust="spacingAndGlyphs">0.00</text></g>
<g filter="url(#pb)"><rect x="514.30" y="167.00" width="52.60" height="130.70" rx="0" fill="#d6d3ca" /><rect x="514.30" y="167.00" width="52.60" height="2.80" rx="0" fill="#8e938a" /><rect x="514.30" y="167.00" width="2.50" height="14.00" rx="0" fill="#8e938a" /><rect x="564.40" y="167.00" width="2.50" height="12.00" rx="0" fill="#8e938a" /><rect x="516.50" y="168.80" width="48.20" height="128.10" rx="3" fill="#dad8d1" /><rect x="523.10" y="169.60" width="1.20" height="126.70" rx="0" fill="#c6c2b8" /><rect x="557.60" y="169.60" width="1.20" height="126.70" rx="0" fill="#cac6bd" /><rect x="524.30" y="169.60" width="33.10" height="6.80" rx="0" fill="#9a9d94" /><rect x="523.30" y="176.40" width="34.60" height="1.80" rx="0" fill="#d8d6cf" /><rect x="524.30" y="208.00" width="33.30" height="74.70" rx="0" fill="#c4bba8" /><rect x="524.30" y="282.00" width="33.30" height="13.50" rx="0" fill="#ccc4b0" /><rect x="524.30" y="282.00" width="33.30" height="1.30" rx="0" fill="#b3a68a" /><rect x="524.30" y="197.00" width="33.30" height="12.00" rx="0" fill="#c4bba8" /><path d="M524.80,178.20 H557.20 V201.00 C557.20,208.00 554.20,209.00 546.20,209.00 H535.80 C527.80,209.00 524.80,208.00 524.80,201.00 Z" fill="#d9d9d5"/><rect x="524.80" y="178.20" width="32.40" height="4.50" rx="0" fill="#9a9d94" opacity="0.55"/><path d="M524.80,201.00 C524.80,208.50 527.80,209.60 535.80,209.60 H546.20 C554.20,209.60 557.20,208.50 557.20,201.00" stroke="#b8966a" stroke-width="1.7" fill="none" opacity="0.8"/><text x="525.30" y="191.00" font-size="10" font-family='"Liberation Sans", sans-serif' fill="#c6c6c0" textLength="31.60" lengthAdjust="spacingAndGlyphs">0.00</text></g>
<g filter="url(#pb)"><rect x="514.20" y="326.20" width="52.60" height="131.10" rx="0" fill="#d6d3ca" /><rect x="514.20" y="326.20" width="52.60" height="2.80" rx="0" fill="#8e938a" /><rect x="514.20" y="326.20" width="2.50" height="14.00" rx="0" fill="#8e938a" /><rect x="564.30" y="326.20" width="2.50" height="12.00" rx="0" fill="#8e938a" /><rect x="516.40" y="328.00" width="48.20" height="128.50" rx="3" fill="#dad8d1" /><rect x="523.00" y="328.80" width="1.20" height="127.10" rx="0" fill="#c6c2b8" /><rect x="557.50" y="328.80" width="1.20" height="127.10" rx="0" fill="#cac6bd" /><rect x="524.20" y="328.80" width="33.10" height="6.80" rx="0" fill="#a2a49c" /><rect x="523.20" y="335.60" width="34.60" height="1.80" rx="0" fill="#d8d6cf" /><rect x="524.20" y="367.20" width="33.30" height="75.10" rx="0" fill="#c6bea8" /><rect x="524.20" y="441.20" width="33.30" height="13.50" rx="0" fill="#cdc4ac" /><rect x="524.20" y="441.20" width="33.30" height="1.30" rx="0" fill="#b3a68a" /><rect x="524.20" y="356.20" width="33.30" height="12.00" rx="0" fill="#c6bea8" /><path d="M524.70,337.40 H557.10 V360.20 C557.10,367.20 554.10,368.20 546.10,368.20 H535.70 C527.70,368.20 524.70,367.20 524.70,360.20 Z" fill="#e2e2df"/><rect x="524.70" y="337.40" width="32.40" height="4.50" rx="0" fill="#a2a49c" opacity="0.55"/><path d="M524.70,360.20 C524.70,367.70 527.70,368.80 535.70,368.80 H546.10 C554.10,368.80 557.10,367.70 557.10,360.20" stroke="#b08a58" stroke-width="1.7" fill="none" opacity="0.8"/><text x="525.20" y="350.20" font-size="10" font-family='"Liberation Sans", sans-serif' fill="#c6c6c0" textLength="31.60" lengthAdjust="spacingAndGlyphs">0.00</text></g>
<g filter="url(#pb)"><defs><linearGradient id="lg9" x1="0" y1="0" x2="0" y2="1"><stop offset="0" stop-color="#1f4284"/><stop offset="1" stop-color="#222e76"/></linearGradient></defs><rect x="574.60" y="9.20" width="51.70" height="130.60" rx="0" fill="#121458" /><rect x="574.60" y="109.20" width="51.70" height="30.60" rx="0" fill="#1c1c70" /><rect x="577.80" y="10.70" width="45.30" height="128.10" rx="5" fill="#3a3ac2" /><rect x="584.10" y="50.20" width="32.70" height="59.00" rx="0" fill="url(#lg9)" /><rect x="584.10" y="94.20" width="32.70" height="15.00" rx="0" fill="#24287a" /><rect x="584.10" y="109.20" width="32.70" height="25.60" rx="2" fill="#3c40b4" /><path d="M584.60,11.20 H616.30 V41.20 C616.30,48.20 613.30,49.20 605.30,49.20 H595.60 C587.60,49.20 584.60,48.20 584.60,41.20 Z" fill="#1a1f6c"/><rect x="584.60" y="14.80" width="31.70" height="1.20" rx="0" fill="#3a3ac2" opacity="0.6"/><path d="M584.10,40.20 C584.10,49.20 587.60,50.50 595.60,50.50 H605.30 C613.30,50.50 616.80,49.20 616.80,40.20" stroke="#3a88dc" stroke-width="3" fill="none" opacity="0.75"/><text x="585.60" y="30.70" font-size="11" font-weight="bold" font-family='"Liberation Sans", sans-serif' fill="#28329a" opacity="0.7" textLength="29.70" lengthAdjust="spacingAndGlyphs">10.00</text></g>
<g filter="url(#pb)"><defs><linearGradient id="lg167" x1="0" y1="0" x2="0" y2="1"><stop offset="0" stop-color="#2474c4"/><stop offset="1" stop-color="#2254a4"/></linearGradient></defs><rect x="574.10" y="167.00" width="53.10" height="131.00" rx="0" fill="#0c1440" /><rect x="574.10" y="260.00" width="53.10" height="38.00" rx="0" fill="#4446b8" /><rect x="577.30" y="168.50" width="46.70" height="128.50" rx="5" fill="#3a4ab8" /><rect x="583.60" y="208.00" width="34.10" height="60.00" rx="0" fill="url(#lg167)" /><rect x="583.60" y="249.00" width="34.10" height="19.00" rx="0" fill="#2250a0" /><rect x="583.60" y="268.00" width="34.10" height="25.00" rx="2" fill="#4854bc" /><path d="M584.10,169.00 H617.20 V199.00 C617.20,206.00 614.20,207.00 606.20,207.00 H595.10 C587.10,207.00 584.10,206.00 584.10,199.00 Z" fill="#161c58"/><rect x="584.10" y="172.60" width="33.10" height="1.20" rx="0" fill="#3a4ab8" opacity="0.6"/><path d="M583.60,198.00 C583.60,207.00 587.10,208.30 595.10,208.30 H606.20 C614.20,208.30 617.70,207.00 617.70,198.00" stroke="#56aaea" stroke-width="3" fill="none" opacity="0.75"/><text x="585.10" y="188.50" font-size="11" font-weight="bold" font-family='"Liberation Sans", sans-serif' fill="#26309c" opacity="0.7" textLength="31.10" lengthAdjust="spacingAndGlyphs">10.03</text></g>
<g filter="url(#pb)"><defs><linearGradient id="lg326" x1="0" y1="0" x2="0" y2="1"><stop offset="0" stop-color="#3a8cca"/><stop offset="1" stop-color="#2f74b8"/></linearGradient></defs><rect x="574.60" y="326.40" width="52.60" height="131.10" rx="0" fill="#0c1440" /><rect x="574.60" y="420.40" width="52.60" height="37.10" rx="0" fill="#4040a8" /><rect x="577.80" y="327.90" width="46.20" height="128.60" rx="5" fill="#3c50b8" /><rect x="584.10" y="367.40" width="33.60" height="74.00" rx="0" fill="url(#lg326)" /><rect x="584.10" y="441.40" width="33.60" height="11.10" rx="2" fill="#4a78c0" /><path d="M584.60,328.40 H617.20 V358.40 C617.20,365.40 614.20,366.40 606.20,366.40 H595.60 C587.60,366.40 584.60,365.40 584.60,358.40 Z" fill="#161c58"/><rect x="584.60" y="332.00" width="32.60" height="1.20" rx="0" fill="#3c50b8" opacity="0.6"/><path d="M584.10,357.40 C584.10,366.40 587.60,367.70 595.60,367.70 H606.20 C614.20,367.70 617.70,366.40 617.70,357.40" stroke="#6cc6f4" stroke-width="3" fill="none" opacity="0.75"/><text x="585.60" y="347.90" font-size="11" font-weight="bold" font-family='"Liberation Sans", sans-serif' fill="#26309c" opacity="0.7" textLength="30.60" lengthAdjust="spacingAndGlyphs">10.03</text></g>
</svg></body></html>
